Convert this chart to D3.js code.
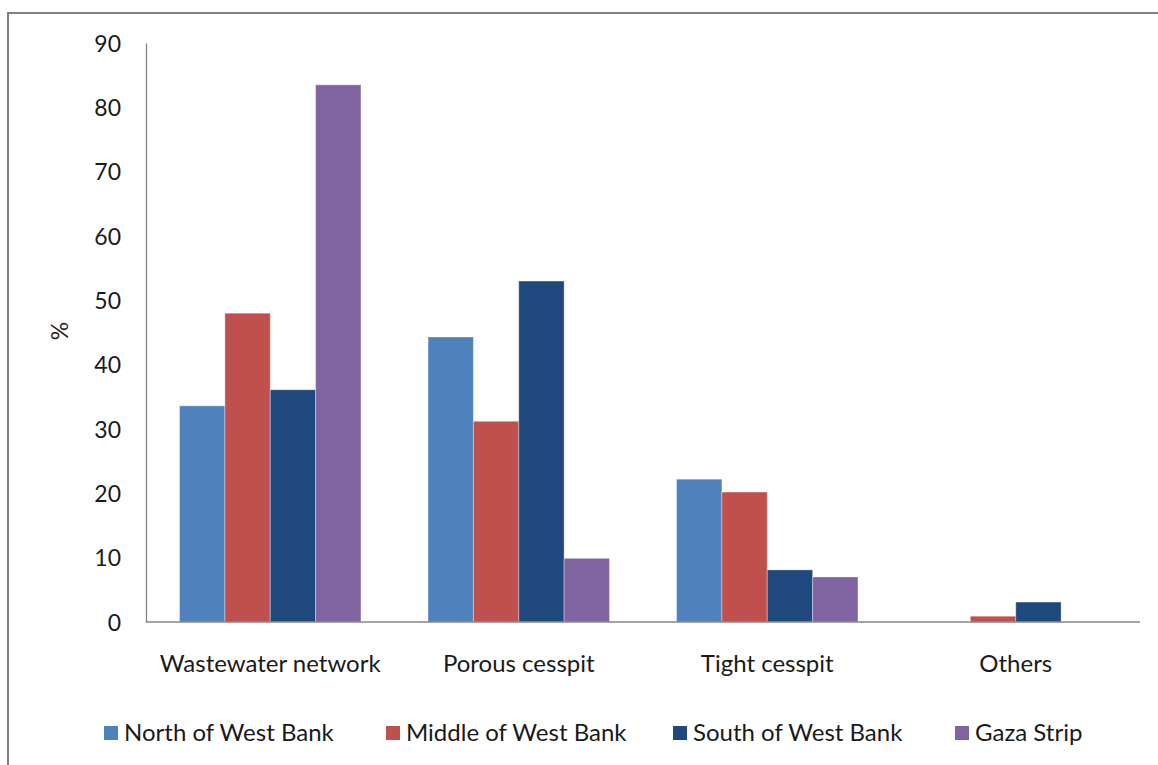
<!DOCTYPE html>
<html>
<head>
<meta charset="utf-8">
<script src="https://cdn.jsdelivr.net/npm/d3@7"></script>
<style>
  html, body { margin: 0; padding: 0; background: #fff; }
  svg { display: block; }
  text { font-family: Lato, "Open Sans", sans-serif; fill: #1a1a1a; }
</style>
</head>
<body>
<svg id="chart" width="1158" height="765"></svg>
<script>
// Sanitation type by region (% of households)
const categories = ["Wastewater network", "Porous cesspit", "Tight cesspit", "Others"];
const seriesNames = ["North of West Bank", "Middle of West Bank", "South of West Bank", "Gaza Strip"];
const northWB  = [33.6, 44.3, 22.2, 0];
const middleWB = [48.0, 31.2, 20.2, 0.9];
const southWB  = [36.1, 53.0, 8.1, 3.1];
const gaza     = [83.5, 9.9, 7.0, 0];
const yTicks   = [0, 10, 20, 30, 40, 50, 60, 70, 80, 90];
const colors   = ["#4F81BD", "#C0504D", "#1F497D", "#8064A2"];

const seriesValues = [northWB, middleWB, southWB, gaza];

const svg = d3.select("#chart");

// Outer frame (runs off the right and bottom edges)
svg.append("rect")
  .attr("x", 8).attr("y", 13)
  .attr("width", 1300).attr("height", 900)
  .attr("fill", "none")
  .attr("stroke", "#808080")
  .attr("stroke-width", 2);

const plot = { left: 146, right: 1140, top: 43, bottom: 622 };

const x0 = d3.scaleBand()
  .domain(categories)
  .range([plot.left, plot.right])
  .paddingInner(0.27)
  .paddingOuter(0.135);

const x1 = d3.scaleBand()
  .domain(seriesNames)
  .range([0, x0.bandwidth()]);

const y = d3.scaleLinear()
  .domain([0, 90])
  .range([plot.bottom, plot.top]);

// Bars
const groups = svg.append("g")
  .selectAll("g")
  .data(categories)
  .join("g")
  .attr("transform", d => `translate(${x0(d)},0)`);

groups.selectAll("rect")
  .data((cat, ci) => seriesNames.map((s, si) => ({ s, si, v: seriesValues[si][ci] })))
  .join("rect")
  .filter(d => d.v > 0)
  .attr("x", d => x1(d.s))
  .attr("y", d => y(d.v))
  .attr("width", x1.bandwidth())
  .attr("height", d => y(0) - y(d.v))
  .attr("fill", d => colors[d.si])
  .attr("stroke", "rgba(255,255,255,0.35)")
  .attr("stroke-width", 1);

// Y axis
const yAxis = d3.axisLeft(y).tickValues(yTicks).tickSize(0).tickPadding(25);
const gy = svg.append("g")
  .attr("transform", `translate(${plot.left},0)`)
  .call(yAxis);
gy.select(".domain").attr("stroke", "#868686").attr("stroke-width", 1.3);
gy.selectAll("text").style("font-size", "23px").attr("dy", "0.35em");

// X axis
const xAxis = d3.axisBottom(x0).tickSize(0).tickPadding(33);
const gx = svg.append("g")
  .attr("transform", `translate(0,${plot.bottom})`)
  .call(xAxis);
gx.select(".domain").attr("stroke", "#868686").attr("stroke-width", 1.3)
  .attr("d", `M${plot.left},0H${plot.right}`);
gx.selectAll("text").style("font-size", "24px");

// Y axis title
svg.append("text")
  .attr("transform", "translate(68,331) rotate(-90)")
  .attr("text-anchor", "middle")
  .style("font-size", "23px")
  .text("%");

// Legend
const legendX = [104, 386, 673, 955];
const legend = svg.append("g")
  .selectAll("g")
  .data(seriesNames)
  .join("g")
  .attr("transform", (d, i) => `translate(${legendX[i]},733)`);
legend.append("rect")
  .attr("x", 0).attr("y", -7)
  .attr("width", 14).attr("height", 14)
  .attr("fill", (d, i) => colors[i]);
legend.append("text")
  .attr("x", 20).attr("y", 0)
  .attr("dy", "0.35em")
  .style("font-size", "24px")
  .text(d => d);
</script>
</body>
</html>
